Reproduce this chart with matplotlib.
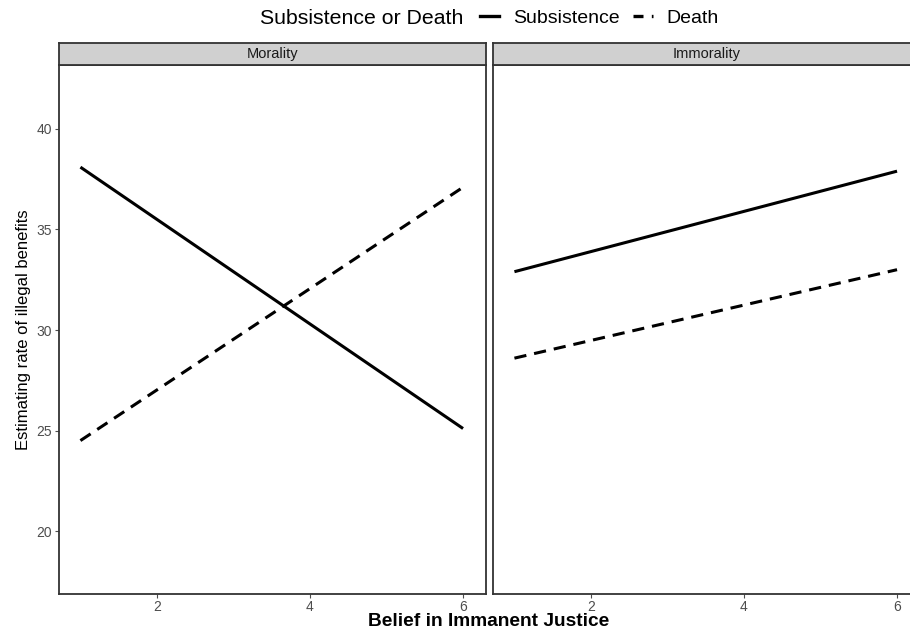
import matplotlib
matplotlib.use("Agg")
import matplotlib.pyplot as plt
from matplotlib.lines import Line2D

plt.rcParams['font.family'] = ['Liberation Sans', 'DejaVu Sans']

# data
panels = ["Morality", "Immorality"]
x_vals = [1, 6]
subsistence = {"Morality": [38.1, 25.1], "Immorality": [32.9, 37.9]}
death = {"Morality": [24.5, 37.1], "Immorality": [28.6, 33.0]}
x_ticks = [2, 4, 6]
y_ticks = [20, 25, 30, 35, 40]

W, H = 910, 631
fig = plt.figure(figsize=(W / 100, H / 100), dpi=100)

def fx(px):
    return px / W

def fy(py):
    return 1 - py / H

panel_left = [59, 493]
panel_w = 427
top, bottom, strip_top = 65, 594, 43
dash = (4, 2.6)
frame_col = "#333333"

for i, name in enumerate(panels):
    ax = fig.add_axes([fx(panel_left[i]), fy(bottom), fx(panel_w), (bottom - top) / H])
    ax.plot(x_vals, subsistence[name], color="black", lw=2.2, solid_capstyle="butt")
    ax.plot(x_vals, death[name], color="black", lw=2.2, dashes=dash)
    ax.set_xlim(0.72, 6.30)
    ax.set_ylim(16.87, 43.18)
    ax.set_xticks(x_ticks)
    ax.set_yticks(y_ticks)
    for s in ax.spines.values():
        s.set_color(frame_col)
        s.set_linewidth(1.3)
    ax.tick_params(colors="#4d4d4d", labelsize=10, length=3, width=0.8, pad=2)
    ax.tick_params(axis="x", pad=1)
    if i > 0:
        ax.tick_params(axis="y", left=False, labelleft=False)
    else:
        ax.set_ylabel("Estimating rate of illegal benefits", fontsize=12, color="black", labelpad=4)

    # facet strip
    st = fig.add_axes([fx(panel_left[i]), fy(top), fx(panel_w), (top - strip_top) / H])
    st.set_facecolor("#d0d0d0")
    st.set_xticks([])
    st.set_yticks([])
    for s in st.spines.values():
        s.set_color(frame_col)
        s.set_linewidth(1.3)
    st.text(0.5, 0.48, name, ha="center", va="center", fontsize=10.5, color="#1a1a1a",
            transform=st.transAxes)

fig.text(fx(489), fy(621), "Belief in Immanent Justice", ha="center", va="center",
         fontsize=13.8, fontweight="bold")

# legend on top
fig.text(fx(260), fy(18), "Subsistence or Death", ha="left", va="center", fontsize=15.3)
handles = [Line2D([], [], color="black", lw=2.4),
           Line2D([], [], color="black", lw=2.4, dashes=(3, 2.5))]
fig.legend(handles, ["Subsistence", "Death"], ncol=2, frameon=False,
           loc="center left", bbox_to_anchor=(fx(480), fy(18)), fontsize=14,
           handlelength=1.0, handletextpad=0.7, columnspacing=0.7,
           borderaxespad=0, borderpad=0)

fig.savefig("out.png", dpi=100)
